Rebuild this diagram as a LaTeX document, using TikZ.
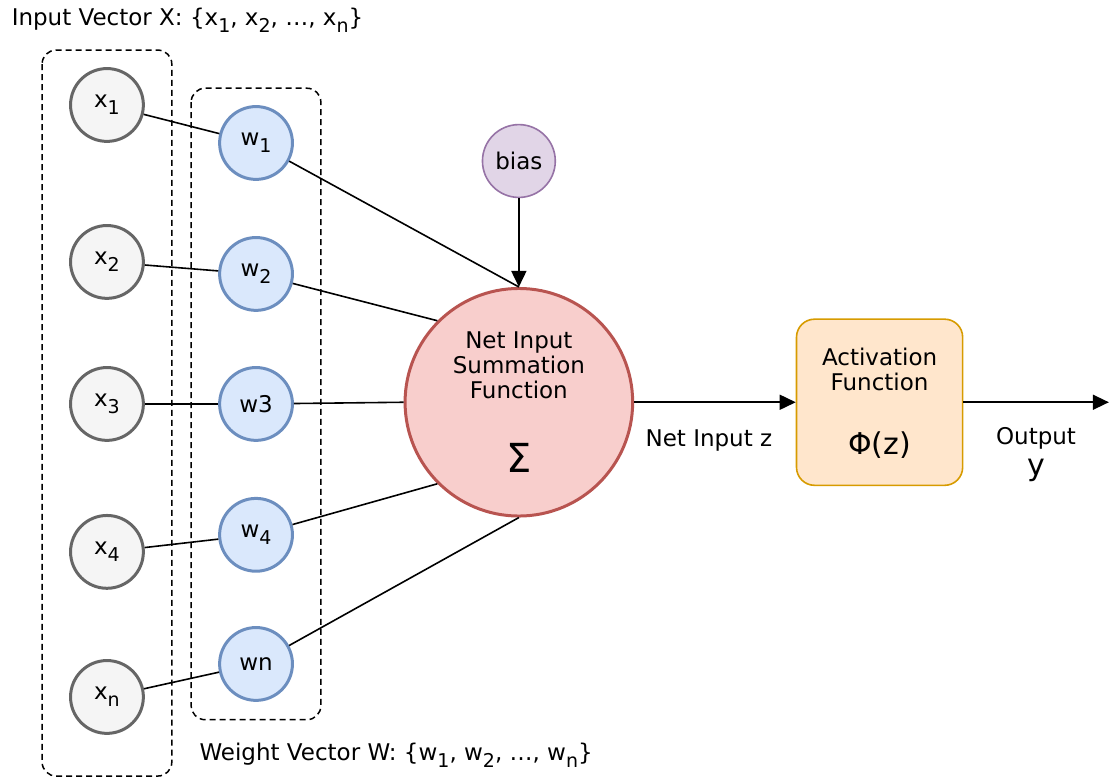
\documentclass[tikz,border=0pt]{standalone}
\usepackage{fontspec}
\setmainfont{DejaVu Sans}
\usetikzlibrary{arrows.meta}
\definecolor{stone}{HTML}{F5F5F5}
\definecolor{stonedark}{HTML}{666666}
\definecolor{sky}{HTML}{DAE8FC}
\definecolor{skydark}{HTML}{6C8EBF}
\definecolor{lilac}{HTML}{E1D5E7}
\definecolor{lilacdark}{HTML}{9673A6}
\definecolor{rose}{HTML}{F8CECC}
\definecolor{rosedark}{HTML}{B85450}
\definecolor{peach}{HTML}{FFE6CC}
\definecolor{peachdark}{HTML}{D79B00}
\newcommand\lowsub[1]{\raisebox{-3.5pt}{\fontsize{9.5}{9.5}\selectfont #1}}
\tikzset{
  >={Triangle[length=8pt,width=7.5pt]},
  unit/.style={circle,draw=#1dark,fill=#1,line width=1.5pt,minimum size=1.28cm,
    inner sep=0pt,font=\fontsize{11.5}{12.5}\selectfont},
  unit/.default=stone,
  sum/.style={circle,draw=rosedark,fill=rose,line width=1.5pt,minimum size=4.0cm},
  act/.style={draw=peachdark,fill=peach,rounded corners=9pt,line width=0.8pt,
    minimum width=2.92cm,minimum height=2.92cm},
  link/.style={draw=black,line width=0.8pt},
  flow/.style={->,draw=black,line width=0.8pt},
  group/.style={draw=black,dash pattern=on 3pt off 2pt,rounded corners=7pt,line width=0.75pt},
  tag/.style={inner sep=0pt,align=center,font=\fontsize{11.5}{12.5}\selectfont},
  big/.style={inner sep=0pt,font=\fontsize{#1}{#1}\selectfont},
}
\begin{document}
\begin{tikzpicture}
  \useasboundingbox (0,0) rectangle (19.51,-13.67);
  % dashed groups
  \draw[group] (0.74,-0.88) rectangle (3.02,-13.64);
  \draw[group] (3.36,-1.55) rectangle (5.64,-12.65);
  \node[sum] (sum) at (9.12,-7.07) {};
  \node[unit=lilac,line width=0.8pt] (bias) at (9.12,-2.83) {bias};
  \node[act] (act) at (15.46,-7.07) {};
  \coordinate (out) at (19.49,-7.07);
  \foreach \i/\yx/\yw/\side/\xl/\wl in {
      1/-1.845/-2.513/north/x\lowsub{1}/w\lowsub{1},
      2/-4.604/-4.815/north west/x\lowsub{2}/w\lowsub{2},
      3/-7.10/-7.10/west/x\lowsub{3}/w3,
      4/-9.70/-9.40/south west/x\lowsub{4}/w\lowsub{4},
      n/-12.25/-11.67/south/x\lowsub{n}/wn}{
    \node[unit] (x\i) at (1.88,\yx) {\xl};
    \node[unit=sky] (w\i) at (4.50,\yw) {\wl};
    \draw[link] (x\i) -- (w\i);
    \draw[link] (w\i) -- (sum.\side);
  }
  \draw[flow] (bias) -- (sum.north);
  \draw[flow] (sum) -- (act);
  \draw[flow] (act) -- (out);
  % texts
  \node[tag] (sumtext) at (9.12,-6.42) {Net Input\\Summation\\Function};
  \node[big=20] (sigma) at (9.12,-8.05) {Σ};
  \node[tag] (acttext) at (15.46,-6.50) {Activation\\Function};
  \node[big=15] (phi) at (15.46,-7.82) {Φ(z)};
  \node[tag] (netz) at (12.46,-7.75) {Net Input z};
  \node[tag] (outtext) at (18.21,-7.70) {Output};
  \node[big=15] (outy) at (18.21,-8.27) {y};
  \node[tag,anchor=west] (xlabel) at (0.2,-0.35) {Input Vector X: \{x\lowsub{1}, x\lowsub{2}, …, x\lowsub{n}\}};
  \node[tag,anchor=west] (wlabel) at (3.5,-13.28) {Weight Vector W: \{w\lowsub{1}, w\lowsub{2}, …, w\lowsub{n}\}};
\end{tikzpicture}
\end{document}
